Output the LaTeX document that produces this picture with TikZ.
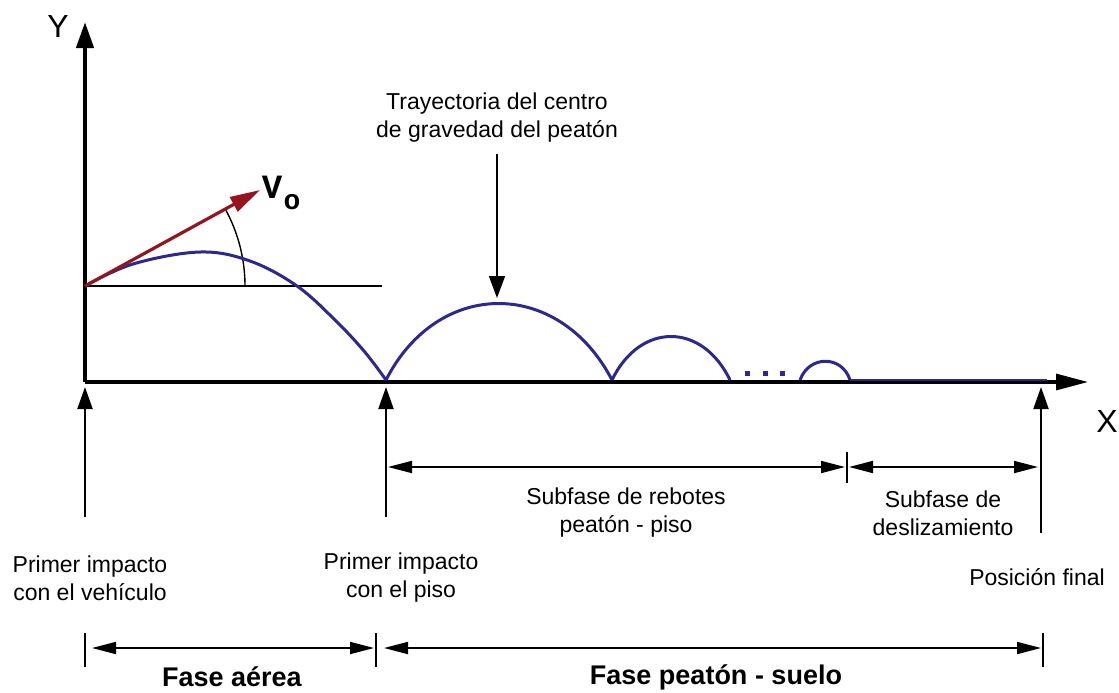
\documentclass[tikz,border=0pt]{standalone}
\usepackage{fontspec}
\setmainfont{Liberation Sans}
\newfontfamily\vofont{Liberation Mono}
\usetikzlibrary{arrows.meta}
\definecolor{traj}{RGB}{45,40,145}
\definecolor{vred}{RGB}{150,20,30}
\begin{document}
\begin{tikzpicture}[x=0.5pt,y=-0.5pt,
  lbl/.style={font=\fontsize{11.5}{14}\selectfont, align=center, inner sep=0pt},
  phase/.style={font=\fontsize{13.5}{15}\selectfont\bfseries, inner sep=0pt},
  axislabel/.style={font=\fontsize{16}{18}\selectfont, inner sep=0pt},
  yaxis/.style={line width=2.2pt, -{Triangle[length=13pt,width=8.5pt]}},
  xaxis/.style={line width=1.6pt, -{Triangle[length=16pt,width=8pt]}},
  impact/.style={line width=1pt, -{Triangle[length=11pt,width=7.5pt]}},
  pointer/.style={line width=0.8pt, -{Triangle[length=11pt,width=8pt]}},
  dimline/.style={line width=0.9pt, {Triangle[length=12pt,width=6pt]}-{Triangle[length=12pt,width=6pt]}},
  tick/.style={line width=0.9pt},
  thin/.style={line width=0.7pt},
  trajline/.style={traj, line width=1.5pt},
  vel/.style={vred, line width=1.6pt, -{Triangle[length=15pt,width=8pt]}},
]
\useasboundingbox (0,0) rectangle (1119,692);

% coordinates
\coordinate (O) at (85,382);
\coordinate (Ytip) at (85,22);
\coordinate (Xtip) at (1088,382);
\coordinate (L) at (85,286);
\coordinate (Lend) at (382,286);
\coordinate (Vtip) at (260,190);
\coordinate (G1) at (386,380);
\coordinate (G2) at (612,380);
\coordinate (G3) at (730,380);
\coordinate (B4s) at (800,380);
\coordinate (B4e) at (850,380);
\coordinate (Fin) at (1047,380);

% axes
\draw[yaxis] (O) -- (Ytip);
\draw[xaxis] (O) -- (Xtip);
\node[axislabel] (ylab) at (58,26) {Y};
\node[axislabel] (xlab) at (1107,421) {X};

% horizontal reference and angle
\draw[thin] (L) -- (Lend);
\draw[thin] plot[domain=0:28.7,samples=30] ({85+160*cos(\x)},{286-160*sin(\x)});

% trajectory
\draw[trajline] plot[smooth, tension=0.6] coordinates {(85,286) (133,264) (200,252) (250,261) (297,286) (335,320) (364,351) (386,380)};
\draw[trajline] (G1) .. controls (438,278) and (559,278) .. (G2);
\draw[trajline] (G2) .. controls (640,322) and (702,322) .. (G3);
\foreach \dx in {747,765,782}
  \fill[traj] (\dx-2.5,370.5) rectangle ++(5,5);
\draw[trajline] (B4s) .. controls (809,355) and (842,355) .. (B4e);
\draw[traj, line width=1.4pt] (B4e) -- (Fin);

% velocity
\draw[vel] (L) -- (Vtip);
\node[font=\vofont\bfseries\fontsize{17}{18}\selectfont, inner sep=0pt] (vlab) at (272,187) {V};
\node[font=\vofont\bfseries\fontsize{14}{16}\selectfont, inner sep=0pt] (vsub) at (292,202) {o};

% pointer to trajectory
\node[lbl] (tray) at (497,118) {Trayectoria del centro\\de gravedad del peatón};
\coordinate (Pstart) at (497,154);
\coordinate (Ptip) at (497,298);
\draw[pointer] (Pstart) -- (Ptip);

% impact arrows
\coordinate (A1b) at (85,517);  \coordinate (A1t) at (85,387);
\coordinate (A2b) at (386,517); \coordinate (A2t) at (386,387);
\coordinate (A3b) at (1041,533); \coordinate (A3t) at (1041,387);
\draw[impact] (A1b) -- (A1t);
\draw[impact] (A2b) -- (A2t);
\draw[impact] (A3b) -- (A3t);

% subphase dimension lines
\coordinate (S1a) at (388,467); \coordinate (S1b) at (845,467);
\coordinate (S2a) at (849,467); \coordinate (S2b) at (1038,467);
\coordinate (T1a) at (847,452); \coordinate (T1b) at (847,483);
\draw[dimline] (S1a) -- (S1b);
\draw[dimline] (S2a) -- (S2b);
\draw[tick] (T1a) -- (T1b);
\node[lbl] (sub1) at (626,513) {Subfase de rebotes\\peatón - piso};
\node[lbl] (sub2) at (943,513) {Subfase de\\deslizamiento};

% impact labels
\node[lbl] (imp1) at (90,578) {Primer impacto\\con el vehículo};
\node[lbl] (imp2) at (401,578) {Primer impacto\\con el piso};
\node[lbl] (fin) at (1037,577) {Posición final};

% phase dimension lines
\coordinate (F1a) at (92,648);  \coordinate (F1b) at (374,648);
\coordinate (F2a) at (384,648); \coordinate (F2b) at (1041,648);
\coordinate (K1a) at (85,633);  \coordinate (K1b) at (85,667);
\coordinate (K2a) at (376,633); \coordinate (K2b) at (376,667);
\coordinate (K3a) at (1043,633); \coordinate (K3b) at (1043,667);
\draw[tick] (K1a) -- (K1b);
\draw[tick] (K2a) -- (K2b);
\draw[tick] (K3a) -- (K3b);
\draw[dimline] (F1a) -- (F1b);
\draw[dimline] (F2a) -- (F2b);
\node[phase] (fa) at (232,677) {Fase aérea};
\node[phase] (fp) at (716,677) {Fase peatón - suelo};
\end{tikzpicture}
\end{document}
